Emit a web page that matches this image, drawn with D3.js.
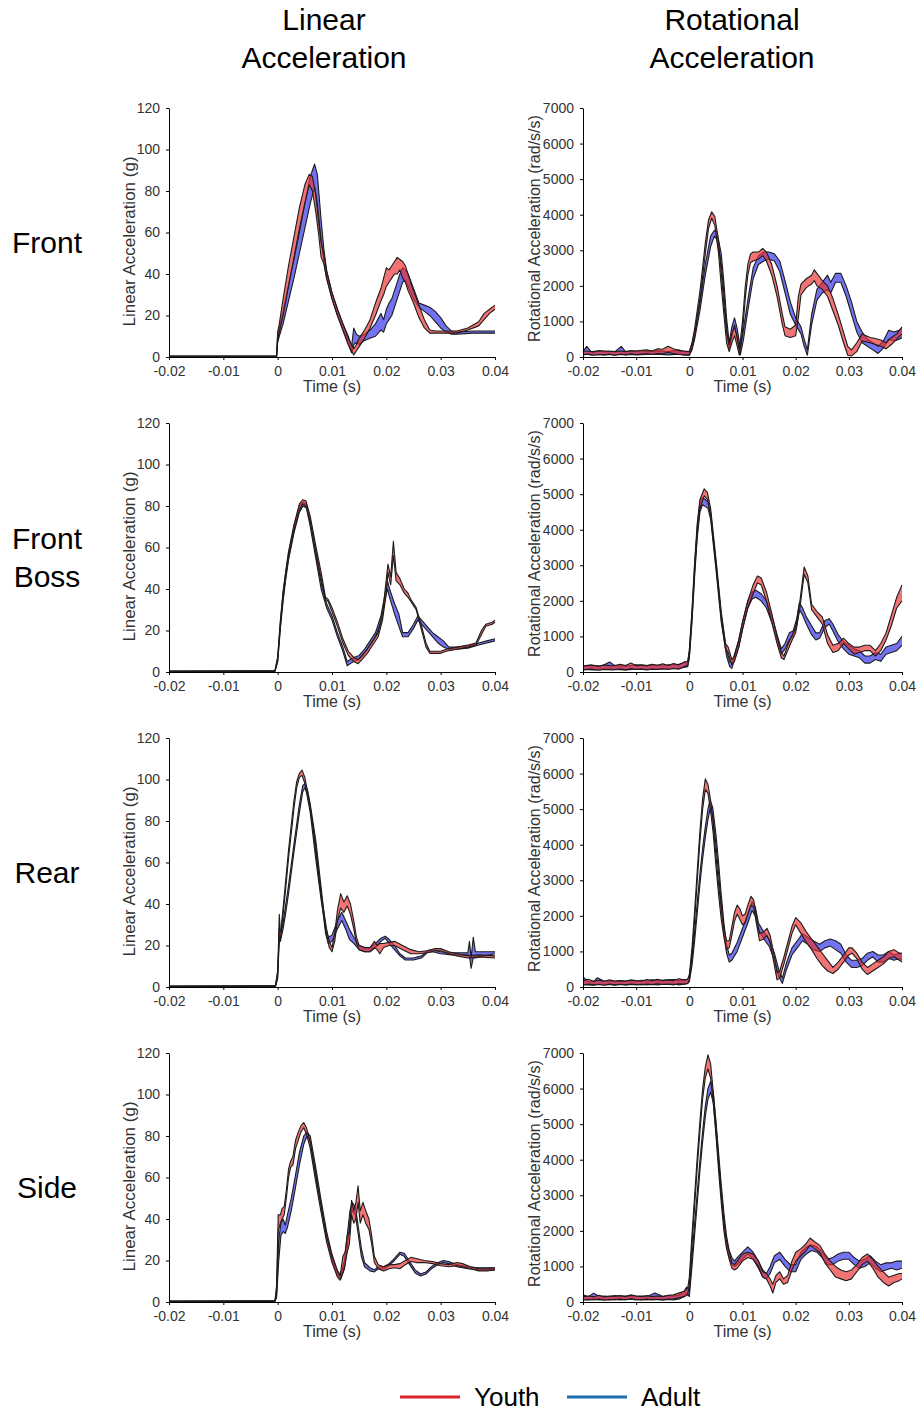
<!DOCTYPE html>
<html>
<head>
<meta charset="utf-8">
<script src="https://cdn.jsdelivr.net/npm/d3@7"></script>
<style>
  body { margin: 0; background: #fff; }
  svg { display: block; font-family: "Liberation Sans", Arial, sans-serif; }
  .axis path, .axis line { stroke: #000; }
  .axis text { fill: #333; font-size: 14px; }
</style>
</head>
<body>
<div id="chart"></div>
<script>
// labels and ticks
const colTitles = [["Linear", "Acceleration"], ["Rotational", "Acceleration"]];
const rowLabels = [["Front"], ["Front", "Boss"], ["Rear"], ["Side"]];
const yTitles = ["Linear Acceleration (g)", "Rotational Acceleration (rad/s/s)"];
const timeTicks = [-0.02, -0.01, 0, 0.01, 0.02, 0.03, 0.04];
const linTicks = [0, 20, 40, 60, 80, 100, 120];
const rotTicks = [0, 1000, 2000, 3000, 4000, 5000, 6000, 7000];
const groups = ["Youth", "Adult"];

// bands: [time (ms), lower, upper]
const frontLinYouth = [[-20, 0.1, 0.5], [-0.2, 0.1, 0.5], [0, 8, 12], [0.3, 12, 16], [1, 20, 28], [2, 34, 44], [3, 48, 58], [4, 62, 72], [5, 74, 83], [5.8, 83, 88], [6.4, 80, 87], [7, 70, 78], [7.5, 60, 66], [8, 48, 55], [8.5, 45, 50], [9, 38, 41], [10, 28, 31], [11, 20, 23], [12, 13, 16], [13, 6, 9], [14, 1, 4], [14.5, 3, 6], [15, 5, 9], [16, 9, 13], [17, 14, 18], [18, 20, 26], [19, 27, 33], [19.5, 30, 38], [20, 34, 43], [20.5, 36, 42], [21, 38, 44], [21.5, 40, 46], [22, 40, 48], [22.5, 42, 47], [23, 38, 46], [23.5, 36, 44], [24, 32, 40], [25, 26, 32], [26, 19, 25], [27, 14, 18], [28, 11.5, 13], [29, 11.5, 12.5], [31, 11.5, 12.5], [33, 11.5, 12.5], [35, 13, 14], [37, 15, 17], [38, 18, 21], [39, 21, 23], [40, 23, 25]];
const frontLinAdult = [[-20, 0.1, 0.5], [-0.2, 0.1, 0.5], [0, 7, 11], [0.3, 10, 14], [1, 16, 22], [2, 27, 35], [3, 38, 47], [4, 50, 60], [5, 62, 74], [6, 74, 87], [6.8, 82, 93], [7.3, 74, 88], [8, 56, 66], [8.5, 46, 52], [9, 38, 42], [10, 28, 31], [11, 20, 23], [12, 13, 16], [13, 6, 10], [13.6, 2, 5], [14, 6, 14], [14.5, 7, 11], [15, 6, 10], [16, 8, 11], [17, 9, 13], [18, 10, 16], [19, 13, 21], [19.5, 12, 18], [20, 16, 23], [20.5, 18, 26], [21, 20, 28], [22, 28, 36], [22.5, 32, 40], [23, 36, 43], [23.5, 37, 42], [24, 34, 40], [25, 28, 33], [26, 24, 26], [27, 22, 25], [28, 20, 24], [29, 17, 22], [30, 14, 19], [31, 12, 15], [32, 11, 12.5], [33, 11, 12], [36, 11.5, 12.5], [38, 11.5, 12.5], [40, 11.5, 12.5]];

const frontRotYouth = [[-20, 60, 170], [-19, 80, 160], [-18, 50, 140], [-17, 70, 180], [-16, 60, 170], [-15, 80, 160], [-14, 50, 150], [-13, 70, 170], [-12, 60, 150], [-11, 90, 180], [-10, 70, 170], [-9, 80, 190], [-8, 90, 200], [-7, 70, 170], [-6, 100, 230], [-5, 90, 220], [-4, 130, 300], [-3, 100, 230], [-2, 70, 180], [-1, 60, 170], [0, 60, 150], [0.5, 250, 400], [1, 600, 800], [2, 1600, 1850], [3, 2900, 3200], [3.6, 3600, 3850], [4.2, 3900, 4080], [4.8, 3700, 3950], [5.5, 2900, 3250], [6, 2000, 2400], [6.5, 1200, 1500], [7, 400, 700], [7.5, 150, 350], [8, 400, 650], [8.5, 600, 850], [9, 300, 550], [9.4, 50, 200], [10, 700, 1000], [10.5, 1600, 1950], [11, 2300, 2600], [11.5, 2650, 2900], [12, 2700, 2950], [13, 2750, 2950], [13.8, 2850, 3050], [14.5, 2700, 2950], [15.5, 2300, 2600], [16.5, 1700, 2000], [17.5, 900, 1200], [18, 600, 850], [19, 550, 780], [20, 600, 900], [20.5, 1100, 1700], [21, 1750, 2050], [22, 1950, 2200], [23, 2050, 2300], [23.5, 2150, 2450], [24, 2000, 2350], [25, 1900, 2150], [26, 1700, 2000], [27, 1300, 1650], [28, 900, 1200], [29, 400, 700], [29.8, 50, 300], [30.5, 30, 200], [31.5, 150, 400], [32.5, 450, 650], [34, 400, 550], [35, 350, 520], [36, 300, 480], [37, 230, 400], [38, 350, 550], [39, 500, 650], [40, 650, 850]];
const frontRotAdult = [[-20, 70, 150], [-19.3, 80, 300], [-18.5, 60, 150], [-17, 70, 170], [-16, 60, 150], [-15, 70, 160], [-14, 50, 150], [-12.8, 90, 300], [-12, 60, 150], [-11, 70, 160], [-10, 60, 170], [-8, 70, 150], [-6, 80, 180], [-4, 60, 150], [-2, 80, 200], [-1, 60, 150], [0, 50, 150], [0.5, 200, 350], [1, 500, 700], [2, 1300, 1550], [3, 2300, 2600], [4, 3100, 3400], [4.7, 3400, 3560], [5.2, 3300, 3520], [6, 2600, 2900], [6.5, 1800, 2100], [7, 800, 1100], [7.5, 200, 400], [8, 600, 850], [8.5, 900, 1100], [9, 500, 800], [9.6, 60, 250], [10.2, 500, 800], [11, 1300, 1600], [12, 2200, 2500], [13, 2600, 2850], [14, 2700, 2950], [15, 2750, 2950], [16, 2700, 2900], [17, 2400, 2700], [18, 1800, 2150], [19, 1200, 1550], [20, 900, 1100], [21, 650, 850], [21.6, 300, 500], [22.2, 50, 200], [23, 900, 1200], [24, 1600, 1900], [25, 1800, 2100], [26, 1900, 2300], [26.6, 1800, 2100], [27.5, 2100, 2350], [28.5, 2100, 2350], [29.5, 1700, 2000], [30.5, 1200, 1550], [31.5, 700, 1000], [32.5, 400, 700], [33.5, 300, 500], [34.5, 200, 400], [35.5, 100, 300], [36.5, 250, 450], [37.5, 500, 750], [38.5, 450, 700], [39.5, 500, 750], [40, 550, 800]];

const bossLinYouth = [[-20, 0.1, 0.4], [-0.5, 0.3, 0.6], [0, 5, 7], [0.5, 22, 25], [1, 36, 39], [1.5, 46, 49], [2, 55, 58], [3, 68, 71], [4, 78, 81], [4.6, 81, 83], [5.2, 80, 82.5], [6, 72, 75], [7, 58, 61], [8, 45, 48], [8.8, 35, 36], [9.3, 34, 35], [10, 29, 31], [11, 22, 24], [12, 14, 16], [13, 8, 10], [14, 5, 7], [14.8, 4, 6], [15.5, 6, 8], [16.5, 9, 11], [17.5, 13, 15], [18.5, 17, 19], [19.3, 25, 28], [20, 38, 45], [20.3, 48, 52], [20.8, 42, 46], [21.3, 56, 63], [21.8, 44, 48], [22.5, 42, 45], [23.3, 38, 40], [24, 36, 38], [24.5, 34, 35], [25.5, 30, 31], [26.5, 20, 22], [27.3, 12, 14], [28, 9, 10], [30, 9, 10], [31, 10, 11], [33, 11, 12], [35, 12, 13], [36.5, 13, 14], [37.5, 18, 20], [38.3, 22, 23], [39.5, 23, 24], [40, 24, 25]];
const bossLinAdult = [[-20, 0.1, 0.4], [-0.5, 0.3, 0.6], [0, 5, 7], [0.5, 21, 24], [1, 34, 38], [1.5, 45, 48], [2, 54, 57], [3, 67, 70], [4, 77, 80], [4.7, 80, 82], [5.3, 79, 81], [6, 70, 73], [7, 55, 58], [8, 40, 43], [9, 31, 33], [10, 25, 27], [11, 17, 19], [12, 10, 12], [12.8, 3, 5], [13.3, 4, 6], [14, 5, 7], [15, 6, 8], [16, 9, 11], [17, 13, 15], [18, 17, 19], [19, 24, 27], [19.8, 35, 38], [20.2, 40, 44], [20.6, 36, 40], [21.5, 28, 33], [22.3, 22, 28], [23, 17, 19], [24, 17, 19], [25, 21, 23], [25.8, 25, 27], [26.5, 23, 25], [27.5, 20, 22], [28.5, 17, 19], [29.5, 14, 17], [30.5, 12, 15], [31.5, 11, 12], [33, 11, 12], [35, 11.5, 12.5], [37, 13, 14], [38.5, 14, 15], [40, 15, 16]];

const bossRotYouth = [[-20, 60, 170], [-18.5, 80, 200], [-17, 50, 160], [-16, 70, 200], [-14.5, 60, 170], [-13, 80, 220], [-12, 60, 180], [-11, 90, 250], [-10, 70, 180], [-9, 80, 200], [-8, 60, 180], [-7, 80, 220], [-6, 70, 190], [-5, 90, 230], [-4, 70, 180], [-3, 100, 240], [-2, 80, 200], [-1, 150, 280], [-0.3, 200, 300], [0, 400, 600], [0.5, 1500, 1750], [1, 2800, 3100], [1.5, 3900, 4200], [2, 4600, 4850], [2.8, 4950, 5150], [3.4, 4850, 5050], [4, 4400, 4600], [5, 3000, 3200], [6, 1500, 1700], [6.8, 650, 800], [7.3, 550, 700], [8, 200, 350], [8.5, 300, 450], [9.3, 700, 900], [10, 1200, 1400], [11, 1800, 2000], [12, 2200, 2450], [12.8, 2500, 2700], [13.5, 2450, 2650], [14.5, 2000, 2250], [15.5, 1400, 1650], [16.5, 800, 1000], [17.3, 400, 550], [17.8, 350, 450], [18.5, 600, 750], [19.2, 850, 1000], [20, 1100, 1250], [20.8, 1800, 2000], [21.6, 2750, 2950], [22.3, 2500, 2700], [23, 1750, 1900], [24, 1550, 1700], [25, 1350, 1550], [26, 800, 1050], [27, 550, 750], [28, 600, 800], [29, 800, 950], [30, 650, 800], [31, 500, 700], [32, 550, 700], [33, 600, 750], [34, 600, 750], [35, 450, 600], [36, 600, 800], [37, 900, 1100], [38, 1300, 1600], [39, 1800, 2100], [40, 2000, 2450]];
const bossRotAdult = [[-20, 70, 170], [-18, 60, 180], [-16.5, 80, 170], [-15, 90, 280], [-14, 70, 180], [-12, 60, 170], [-10, 80, 200], [-8, 70, 180], [-6, 80, 190], [-4, 90, 200], [-2, 100, 220], [-0.3, 150, 280], [0, 400, 600], [0.5, 1400, 1650], [1, 2700, 3000], [1.5, 3800, 4100], [2, 4500, 4800], [2.5, 4700, 4900], [3, 4650, 4850], [3.5, 4600, 4780], [4, 4300, 4500], [5, 2900, 3100], [6, 1400, 1600], [7, 450, 600], [7.6, 150, 300], [8, 100, 250], [8.5, 350, 500], [9.3, 700, 900], [10, 1200, 1400], [11, 1800, 2000], [11.8, 2050, 2250], [12.5, 2100, 2300], [13.5, 2000, 2200], [14.5, 1800, 2000], [15.5, 1400, 1600], [16.5, 900, 1050], [17.3, 500, 650], [18, 650, 800], [18.8, 900, 1100], [19.5, 1000, 1150], [20.2, 1300, 1500], [20.7, 1750, 1950], [21.3, 1600, 1800], [22, 1350, 1550], [23, 1050, 1300], [23.8, 900, 1100], [24.5, 950, 1100], [25.5, 1250, 1450], [26.3, 1350, 1500], [27, 1150, 1350], [28, 850, 1050], [29, 650, 850], [30, 500, 750], [31, 450, 650], [32, 400, 600], [33, 250, 450], [34, 250, 450], [35, 350, 550], [36, 300, 500], [37, 500, 700], [38, 550, 750], [39, 600, 800], [40, 750, 1000]];

const rearLinYouth = [[-20, 0.1, 0.4], [-0.4, 0.3, 0.6], [0, 5, 8], [0.3, 22, 26], [0.6, 25, 28], [1, 35, 38], [1.5, 48, 52], [2, 62, 66], [2.5, 74, 78], [3, 86, 90], [3.5, 96, 99], [4, 101, 103], [4.5, 102, 104.5], [5, 98, 101], [6, 84, 87], [7, 62, 65], [8, 42, 45], [9, 25, 28], [9.5, 19, 22], [10, 17, 19], [10.5, 22, 26], [11, 32, 37], [11.6, 38, 45], [12.2, 36, 41], [12.8, 39, 44], [13.4, 35, 40], [14, 28, 32], [14.5, 21, 24], [15, 18, 20], [16, 17, 19], [17, 17, 19], [17.8, 19, 22], [18.3, 18, 20], [18.8, 16, 21], [19.5, 19, 21], [20.5, 20, 21.5], [21.5, 20, 22], [23, 18, 20], [24.5, 16, 18], [26, 16, 17], [27.5, 16.5, 17.5], [29, 17.5, 18.5], [30, 17.5, 18.5], [31.5, 16, 17], [33, 15, 16], [35, 14, 15], [37, 14.5, 15.5], [40, 14, 15]];
const rearLinAdult = [[-20, 0.1, 0.4], [-0.4, 0.3, 0.6], [0, 4, 7], [0.3, 28, 35], [0.5, 22, 25], [1, 28, 31], [1.5, 36, 40], [2, 45, 49], [3, 65, 69], [4, 84, 88], [4.6, 94, 97], [5, 96, 98], [5.5, 93, 95], [6, 86, 88], [7, 68, 71], [8, 44, 48], [8.8, 26, 29], [9.3, 21, 24], [10, 22, 25], [11, 28, 32], [11.8, 32, 36], [12.5, 28, 32], [13.2, 23, 28], [14, 21, 24], [15, 18, 20], [16, 17, 19], [17, 17, 19], [18, 19, 21], [19, 22, 23.5], [19.8, 23.5, 24.5], [20.5, 21, 23], [21.5, 18, 20], [22.5, 15, 16], [23.5, 13, 14], [25, 13, 14], [26.5, 14, 15], [27.5, 16.5, 17.5], [28.5, 17, 18], [30, 16, 17], [32, 15.5, 16.5], [35, 15.5, 16.5], [35.3, 15, 22], [35.6, 9, 14], [36, 14, 24], [36.4, 14, 17], [38, 15, 17], [40, 16, 17]];

const rearRotYouth = [[-20, 50, 170], [-19, 80, 220], [-18, 60, 160], [-17, 70, 190], [-16, 50, 160], [-15, 80, 200], [-14, 60, 170], [-13, 70, 180], [-12, 60, 160], [-11, 80, 200], [-10, 70, 180], [-9, 60, 170], [-8, 80, 210], [-7, 70, 180], [-6, 90, 220], [-5, 70, 180], [-4, 80, 200], [-3, 60, 180], [-2, 90, 230], [-1, 80, 200], [-0.3, 100, 220], [0, 200, 350], [0.5, 900, 1100], [1, 1900, 2150], [1.5, 3000, 3300], [2, 4100, 4400], [2.5, 5000, 5300], [3, 5550, 5850], [3.5, 5450, 5700], [4, 4950, 5250], [4.5, 4300, 4600], [5, 3400, 3700], [5.5, 2600, 2900], [6, 1900, 2200], [6.5, 1400, 1650], [7, 1050, 1300], [7.5, 1100, 1300], [8, 1450, 1700], [8.5, 1850, 2100], [9, 2050, 2300], [9.5, 1900, 2200], [10, 1750, 2000], [10.5, 1800, 2050], [11, 2050, 2300], [11.6, 2300, 2550], [12.1, 2250, 2450], [12.6, 1800, 2000], [13.2, 1300, 1500], [14, 1350, 1550], [14.6, 1450, 1650], [15.2, 1250, 1450], [16, 600, 850], [16.5, 200, 400], [17, 250, 450], [17.8, 650, 850], [18.6, 1100, 1300], [19.3, 1500, 1700], [20, 1750, 1950], [21, 1500, 1800], [22, 1250, 1550], [23, 1050, 1350], [24, 800, 1150], [25, 600, 950], [26, 450, 750], [27, 380, 550], [28, 500, 700], [29, 700, 900], [30, 900, 1100], [30.6, 950, 1100], [31.5, 800, 950], [32.5, 500, 700], [33.5, 350, 550], [34.5, 450, 650], [35.5, 550, 750], [36.5, 650, 850], [37.5, 800, 1000], [38.5, 850, 1050], [39.5, 750, 950], [40, 700, 950]];
const rearRotAdult = [[-20, 70, 280], [-19, 60, 160], [-18, 50, 150], [-17.3, 80, 260], [-16, 60, 160], [-15, 70, 170], [-14, 50, 150], [-13, 80, 180], [-12, 60, 170], [-11, 70, 180], [-10, 60, 160], [-9, 80, 190], [-8, 60, 170], [-7, 70, 200], [-6, 60, 180], [-5, 80, 190], [-4, 70, 200], [-3, 90, 210], [-2, 60, 180], [-1, 80, 200], [-0.3, 100, 220], [0, 150, 300], [0.5, 600, 800], [1, 1300, 1550], [1.5, 2100, 2400], [2, 2900, 3200], [2.5, 3600, 3900], [3, 4200, 4500], [3.5, 4700, 5000], [3.9, 5000, 5250], [4.4, 4800, 5050], [5, 4000, 4300], [5.5, 3200, 3500], [6, 2300, 2600], [6.5, 1500, 1800], [7, 950, 1200], [7.5, 700, 900], [8, 750, 950], [9, 1000, 1250], [10, 1400, 1650], [11, 1800, 2050], [11.8, 2150, 2400], [12.4, 2000, 2250], [13, 1600, 1800], [14, 1350, 1550], [15, 1150, 1350], [16, 750, 950], [16.8, 300, 500], [17.5, 100, 250], [18.3, 500, 700], [19.3, 900, 1100], [20.3, 1100, 1300], [21.3, 1300, 1500], [22.3, 1200, 1400], [23.3, 1050, 1300], [24.5, 1000, 1200], [25.5, 1100, 1300], [26.5, 1150, 1350], [27.5, 1050, 1300], [28.5, 950, 1200], [29.5, 700, 900], [30.5, 550, 750], [31.5, 550, 750], [32.5, 600, 800], [33.5, 750, 950], [34.5, 850, 1000], [35.5, 700, 900], [36.5, 700, 900], [37.5, 800, 1000], [38.5, 750, 900], [39.5, 800, 950], [40, 750, 950]];

const sideLinYouth = [[-20, 0.1, 0.4], [-0.5, 0.3, 0.6], [-0.2, 4, 8], [0.1, 34, 42], [0.5, 38, 42], [0.8, 40, 45], [1.2, 42, 46], [1.6, 50, 54], [2, 60, 64], [2.4, 65, 68], [2.8, 66, 70], [3.3, 74, 78], [3.8, 78, 82], [4.3, 82, 85], [4.8, 84, 86.5], [5.3, 81, 84], [6, 74, 77], [7, 58, 61], [8, 43, 46], [9, 29, 32], [10, 19, 22], [11, 12, 15], [11.5, 10.5, 12.5], [12, 14, 22], [12.4, 18, 24], [12.8, 24, 32], [13.2, 28, 33], [13.6, 42, 49], [14, 38, 44], [14.4, 40, 48], [14.8, 48, 56], [15.2, 38, 44], [15.7, 42, 48], [16.2, 38, 44], [16.8, 35, 40], [17.3, 28, 32], [17.8, 19, 22], [18.5, 16, 18], [19.5, 15, 17], [20.5, 16, 18], [21.5, 16.5, 18], [22.5, 16, 18.5], [23.5, 18, 20], [24.5, 19.5, 21.5], [25.5, 19, 21], [27, 19, 20], [28.5, 18.5, 19.5], [30, 17.5, 18.5], [31.5, 17, 18], [33, 17.5, 19], [34, 17, 18.5], [35.5, 16, 17], [37, 15, 16], [38.5, 15, 16], [40, 15.5, 16.5]];
const sideLinAdult = [[-20, 0.1, 0.4], [-0.5, 0.3, 0.6], [-0.2, 2, 5], [0.2, 20, 30], [0.6, 32, 38], [1, 34, 40], [1.4, 33, 37], [1.8, 36, 42], [2.5, 44, 50], [3.2, 54, 60], [4, 66, 72], [4.8, 76, 80], [5.4, 80, 82], [6, 77, 80], [7, 62, 65], [8, 46, 49], [9, 31, 34], [10, 20, 23], [11, 13, 15], [11.6, 11, 13], [12.3, 16, 20], [12.8, 26, 32], [13.3, 38, 44], [13.7, 44, 48], [14.3, 42, 46], [14.8, 33, 37], [15.4, 22, 26], [16, 17, 19], [17, 15, 16.5], [17.8, 14.5, 15.5], [18.5, 16, 17], [19.5, 16, 17], [20.5, 17.5, 18.5], [21.5, 20, 21], [22.5, 23, 24], [23.3, 22, 23.5], [24.3, 18, 19.5], [25.3, 14, 15.5], [26.3, 12.5, 13.5], [27.3, 13.5, 14.5], [28.3, 16, 17], [29.5, 18, 19], [30.5, 19, 20], [31.5, 18.5, 19.5], [33, 17, 18], [35, 16, 17], [37, 15.5, 16.5], [40, 15.5, 16.5]];

const sideRotYouth = [[-20, 50, 150], [-19, 70, 170], [-18, 60, 150], [-17, 80, 190], [-16, 50, 140], [-15, 70, 170], [-14, 60, 160], [-13, 80, 180], [-12, 60, 150], [-11, 90, 200], [-10, 70, 170], [-9, 60, 150], [-8, 80, 180], [-7, 60, 150], [-6, 70, 170], [-5, 60, 150], [-4, 80, 190], [-3, 90, 200], [-2, 120, 250], [-1, 150, 300], [-0.3, 200, 400], [0, 500, 700], [0.5, 1600, 1900], [1, 2700, 3000], [1.5, 3800, 4100], [2, 4800, 5100], [2.5, 5700, 6000], [3, 6300, 6600], [3.5, 6550, 6950], [4, 6300, 6700], [4.5, 5600, 5900], [5, 4700, 5000], [5.5, 3700, 4000], [6, 2800, 3100], [6.5, 2000, 2300], [7, 1500, 1700], [7.5, 1200, 1400], [8, 950, 1100], [8.5, 900, 1050], [9, 950, 1150], [10, 1150, 1350], [11, 1250, 1400], [12, 1200, 1350], [13, 1000, 1150], [13.8, 700, 850], [14.5, 650, 800], [15.2, 450, 650], [15.7, 250, 500], [16.3, 550, 750], [17, 650, 850], [17.7, 500, 650], [18.5, 550, 750], [19.3, 900, 1150], [20, 1150, 1400], [21, 1300, 1500], [22, 1450, 1650], [22.7, 1600, 1800], [23.5, 1500, 1700], [24.5, 1400, 1600], [25.5, 1100, 1350], [26.5, 900, 1150], [27.5, 700, 1000], [28.5, 650, 900], [29.5, 600, 850], [30.5, 650, 900], [31.5, 850, 1050], [32.5, 1050, 1250], [33.5, 1150, 1350], [34.5, 950, 1200], [35.5, 700, 1000], [36.5, 550, 850], [37.5, 450, 700], [38.5, 550, 750], [39.5, 600, 800], [40, 650, 800]];
const sideRotAdult = [[-20, 70, 200], [-19, 60, 150], [-18, 80, 250], [-17, 60, 160], [-16, 70, 170], [-15, 60, 150], [-14, 80, 180], [-13, 60, 160], [-12, 70, 170], [-11, 80, 180], [-10, 60, 160], [-9, 70, 170], [-8, 60, 150], [-6.5, 80, 250], [-5, 60, 160], [-4, 70, 180], [-3, 60, 170], [-2, 80, 190], [-1, 150, 300], [-0.5, 250, 420], [0, 150, 300], [0.5, 1000, 1300], [1, 1900, 2200], [1.5, 2800, 3100], [2, 3700, 4000], [2.5, 4500, 4800], [3, 5200, 5500], [3.5, 5700, 6000], [4, 5900, 6200], [4.5, 5600, 5900], [5, 4800, 5100], [5.5, 3900, 4200], [6, 3000, 3300], [6.5, 2200, 2500], [7, 1600, 1850], [7.5, 1250, 1450], [8, 1050, 1250], [8.5, 1000, 1150], [9, 1050, 1250], [10, 1200, 1400], [11, 1350, 1550], [12, 1200, 1400], [13, 950, 1150], [13.8, 700, 900], [14.5, 650, 800], [15.2, 800, 1000], [16, 1100, 1300], [17, 1200, 1400], [18, 1000, 1200], [19, 850, 1050], [20, 850, 1050], [21, 1200, 1400], [22, 1350, 1550], [23, 1450, 1600], [24, 1400, 1550], [25, 1250, 1400], [26, 1050, 1200], [27, 1050, 1250], [28, 1150, 1350], [29, 1200, 1400], [30, 1200, 1400], [31, 1050, 1250], [32, 950, 1150], [33, 1000, 1200], [34, 1100, 1300], [35, 950, 1150], [36, 850, 1050], [37, 900, 1100], [38, 950, 1100], [39, 900, 1150], [40, 950, 1150]];

// grid of panels: [row][col] -> { youth, adult }
const panelData = [
  [{ youth: frontLinYouth, adult: frontLinAdult }, { youth: frontRotYouth, adult: frontRotAdult }],
  [{ youth: bossLinYouth, adult: bossLinAdult }, { youth: bossRotYouth, adult: bossRotAdult }],
  [{ youth: rearLinYouth, adult: rearLinAdult }, { youth: rearRotYouth, adult: rearRotAdult }],
  [{ youth: sideLinYouth, adult: sideLinAdult }, { youth: sideRotYouth, adult: sideRotAdult }]
];

const WIDTH = 920, HEIGHT = 1414;
const cols = [
  { left: 169, right: 495, yMax: 120, ticks: linTicks, titleX: 324, labelDx: -40, labelDy: 9, labelSize: 17 },
  { left: 583, right: 902, yMax: 7000, ticks: rotTicks, titleX: 732, labelDx: -49, labelDy: -4, labelSize: 16 }
];
const ROW_TOP = 108, PANEL_H = 249, ROW_STEP = 315;

const fills = { youth: "rgba(236, 48, 48, 0.68)", adult: "rgba(48, 48, 234, 0.68)" };
const legendColors = { Youth: "#d9262b", Adult: "#1f6fae" };

const svg = d3.select("#chart").append("svg")
  .attr("width", WIDTH)
  .attr("height", HEIGHT);

svg.append("rect")
  .attr("width", WIDTH)
  .attr("height", HEIGHT)
  .attr("fill", "#fff");

// column titles
cols.forEach((c, ci) => {
  colTitles[ci].forEach((line, li) => {
    svg.append("text")
      .attr("x", c.titleX)
      .attr("y", 30 + li * 38)
      .attr("text-anchor", "middle")
      .attr("font-size", "30px")
      .attr("fill", "#000")
      .text(line);
  });
});

// row labels
rowLabels.forEach((lines, ri) => {
  const cy = ROW_TOP + ROW_STEP * ri + PANEL_H / 2 + 10;
  const start = cy - (lines.length - 1) * 19;
  lines.forEach((line, li) => {
    svg.append("text")
      .attr("x", 47)
      .attr("y", start + li * 38)
      .attr("dy", "0.35em")
      .attr("text-anchor", "middle")
      .attr("font-size", "30px")
      .attr("fill", "#000")
      .text(line);
  });
});

const timeFormat = d => d === 0 ? "0" : d.toFixed(2);

panelData.forEach((row, ri) => {
  row.forEach((panel, ci) => {
    const c = cols[ci];
    const w = c.right - c.left;
    const top = ROW_TOP + ROW_STEP * ri;

    const g = svg.append("g")
      .attr("transform", `translate(${c.left}, ${top})`);

    const x = d3.scaleLinear().domain([-0.02, 0.04]).range([0, w]);
    const y = d3.scaleLinear().domain([0, c.yMax]).range([PANEL_H, 0]);

    const area = d3.area()
      .x(d => x(d[0] / 1000))
      .y0(d => y(d[1]))
      .y1(d => y(d[2]));
    const lower = d3.line().x(d => x(d[0] / 1000)).y(d => y(d[1]));
    const upper = d3.line().x(d => x(d[0] / 1000)).y(d => y(d[2]));

    // adult first, youth on top
    ["adult", "youth"].forEach(key => {
      const data = panel[key];
      g.append("path")
        .attr("d", area(data))
        .attr("fill", fills[key])
        .attr("stroke", "none");
      [lower, upper].forEach(gen => {
        g.append("path")
          .attr("d", gen(data))
          .attr("fill", "none")
          .attr("stroke", "#1c1c1c")
          .attr("stroke-width", 1.1)
          .attr("stroke-linejoin", "round");
      });
    });

    // axes
    g.append("g")
      .attr("class", "axis")
      .attr("transform", `translate(0, ${PANEL_H})`)
      .call(d3.axisBottom(x).tickValues(timeTicks).tickFormat(timeFormat)
        .tickSizeInner(3).tickSizeOuter(0).tickPadding(6));
    g.append("g")
      .attr("class", "axis")
      .call(d3.axisLeft(y).tickValues(c.ticks).tickFormat(d3.format("d"))
        .tickSizeInner(3).tickSizeOuter(0).tickPadding(6));
    svg.selectAll(".axis").attr("font-family", null).attr("font-size", null);

    // axis titles
    g.append("text")
      .attr("x", w / 2)
      .attr("y", PANEL_H + 35)
      .attr("text-anchor", "middle")
      .attr("font-size", "16px")
      .attr("fill", "#333")
      .text("Time (s)");
    g.append("text")
      .attr("transform", `translate(${c.labelDx}, ${PANEL_H / 2 + c.labelDy}) rotate(-90)`)
      .attr("dy", "0.35em")
      .attr("text-anchor", "middle")
      .attr("font-size", `${c.labelSize}px`)
      .attr("fill", "#333")
      .text(yTitles[ci]);
  });
});

// legend
const legend = svg.append("g").attr("transform", "translate(400, 1397)");
groups.forEach((name, i) => {
  const off = i * 167;
  legend.append("line")
    .attr("x1", off).attr("x2", off + 60)
    .attr("y1", 0).attr("y2", 0)
    .attr("stroke", legendColors[name])
    .attr("stroke-width", 3);
  legend.append("text")
    .attr("x", off + 74)
    .attr("y", 9)
    .attr("font-size", "26px")
    .attr("fill", "#000")
    .text(name);
});
</script>
</body>
</html>
